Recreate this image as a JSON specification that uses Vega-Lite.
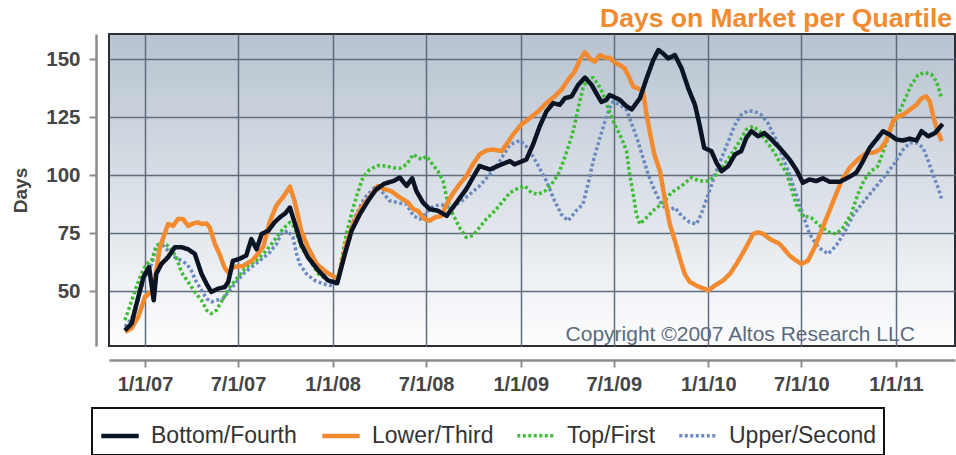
{
"$schema": "https://vega.github.io/schema/vega-lite/v6.json",
"width": 846, "height": 312,
"autosize": {"type": "none"},
"padding": {"left": 109, "top": 34, "right": 1, "bottom": 109},
"background": "white",
"title": {"text": "Days on Market per Quartile", "anchor": "end", "frame": "group", "fontSize": 26.5, "font": "Liberation Sans", "fontWeight": "bold", "color": "#f28a30", "offset": 2, "dx": -3},
"data": {"values": [
{"s":"Upper/Second","d":"2006-11-23","v":34.6},{"s":"Upper/Second","d":"2006-12-06","v":38.1},{"s":"Upper/Second","d":"2006-12-19","v":47.4},{"s":"Upper/Second","d":"2007-01-01","v":56},{"s":"Upper/Second","d":"2007-01-14","v":61.7},{"s":"Upper/Second","d":"2007-01-23","v":68.9},{"s":"Upper/Second","d":"2007-02-02","v":70.3},{"s":"Upper/Second","d":"2007-02-15","v":67.4},{"s":"Upper/Second","d":"2007-02-28","v":64.6},{"s":"Upper/Second","d":"2007-03-13","v":63.1},{"s":"Upper/Second","d":"2007-03-23","v":61.7},{"s":"Upper/Second","d":"2007-04-01","v":58.9},{"s":"Upper/Second","d":"2007-04-11","v":53.9},{"s":"Upper/Second","d":"2007-04-21","v":50.3},{"s":"Upper/Second","d":"2007-05-01","v":46.7},{"s":"Upper/Second","d":"2007-05-10","v":45.3},{"s":"Upper/Second","d":"2007-05-20","v":46},{"s":"Upper/Second","d":"2007-06-02","v":46.7},{"s":"Upper/Second","d":"2007-06-15","v":50.3},{"s":"Upper/Second","d":"2007-06-28","v":53.9},{"s":"Upper/Second","d":"2007-07-11","v":57.4},{"s":"Upper/Second","d":"2007-07-27","v":60.3},{"s":"Upper/Second","d":"2007-08-12","v":63.1},{"s":"Upper/Second","d":"2007-08-29","v":66},{"s":"Upper/Second","d":"2007-09-14","v":70.3},{"s":"Upper/Second","d":"2007-09-23","v":74.6},{"s":"Upper/Second","d":"2007-10-06","v":76},{"s":"Upper/Second","d":"2007-10-16","v":73.1},{"s":"Upper/Second","d":"2007-10-23","v":66},{"s":"Upper/Second","d":"2007-10-29","v":61.7},{"s":"Upper/Second","d":"2007-11-11","v":57.4},{"s":"Upper/Second","d":"2007-11-27","v":54.6},{"s":"Upper/Second","d":"2007-12-13","v":53.1},{"s":"Upper/Second","d":"2007-12-26","v":52.4},{"s":"Upper/Second","d":"2008-01-10","v":53.4},{"s":"Upper/Second","d":"2008-01-28","v":70.3},{"s":"Upper/Second","d":"2008-02-13","v":81.7},{"s":"Upper/Second","d":"2008-03-04","v":90.3},{"s":"Upper/Second","d":"2008-03-23","v":94.6},{"s":"Upper/Second","d":"2008-04-05","v":93.1},{"s":"Upper/Second","d":"2008-04-21","v":88.9},{"s":"Upper/Second","d":"2008-05-07","v":88.1},{"s":"Upper/Second","d":"2008-05-24","v":87.4},{"s":"Upper/Second","d":"2008-06-06","v":82.4},{"s":"Upper/Second","d":"2008-06-19","v":81},{"s":"Upper/Second","d":"2008-07-02","v":83.9},{"s":"Upper/Second","d":"2008-07-15","v":86.7},{"s":"Upper/Second","d":"2008-07-31","v":87.1},{"s":"Upper/Second","d":"2008-08-16","v":86},{"s":"Upper/Second","d":"2008-09-04","v":88.1},{"s":"Upper/Second","d":"2008-09-24","v":91.7},{"s":"Upper/Second","d":"2008-10-13","v":95.3},{"s":"Upper/Second","d":"2008-11-02","v":100.3},{"s":"Upper/Second","d":"2008-11-21","v":106},{"s":"Upper/Second","d":"2008-12-11","v":113.1},{"s":"Upper/Second","d":"2008-12-30","v":114.9},{"s":"Upper/Second","d":"2009-01-15","v":111.7},{"s":"Upper/Second","d":"2009-02-01","v":105.3},{"s":"Upper/Second","d":"2009-02-20","v":97.4},{"s":"Upper/Second","d":"2009-03-08","v":88.9},{"s":"Upper/Second","d":"2009-03-21","v":83.1},{"s":"Upper/Second","d":"2009-04-03","v":80.3},{"s":"Upper/Second","d":"2009-04-19","v":84.6},{"s":"Upper/Second","d":"2009-05-02","v":87.4},{"s":"Upper/Second","d":"2009-05-12","v":96},{"s":"Upper/Second","d":"2009-05-22","v":106},{"s":"Upper/Second","d":"2009-06-04","v":116},{"s":"Upper/Second","d":"2009-06-14","v":123.1},{"s":"Upper/Second","d":"2009-06-23","v":128.9},{"s":"Upper/Second","d":"2009-06-30","v":131.7},{"s":"Upper/Second","d":"2009-07-13","v":130.3},{"s":"Upper/Second","d":"2009-07-26","v":128.1},{"s":"Upper/Second","d":"2009-08-08","v":120.3},{"s":"Upper/Second","d":"2009-08-17","v":114.6},{"s":"Upper/Second","d":"2009-08-27","v":107.4},{"s":"Upper/Second","d":"2009-09-06","v":100.3},{"s":"Upper/Second","d":"2009-09-19","v":93.1},{"s":"Upper/Second","d":"2009-10-02","v":87.4},{"s":"Upper/Second","d":"2009-10-15","v":84.6},{"s":"Upper/Second","d":"2009-10-28","v":86},{"s":"Upper/Second","d":"2009-11-10","v":82.4},{"s":"Upper/Second","d":"2009-11-26","v":79.6},{"s":"Upper/Second","d":"2009-12-09","v":78.9},{"s":"Upper/Second","d":"2009-12-18","v":83.1},{"s":"Upper/Second","d":"2010-01-01","v":91.7},{"s":"Upper/Second","d":"2010-01-14","v":100.3},{"s":"Upper/Second","d":"2010-01-27","v":107.4},{"s":"Upper/Second","d":"2010-02-09","v":114.6},{"s":"Upper/Second","d":"2010-02-22","v":121.7},{"s":"Upper/Second","d":"2010-03-06","v":126},{"s":"Upper/Second","d":"2010-03-19","v":127.7},{"s":"Upper/Second","d":"2010-04-01","v":127.4},{"s":"Upper/Second","d":"2010-04-14","v":126},{"s":"Upper/Second","d":"2010-04-27","v":122.4},{"s":"Upper/Second","d":"2010-05-14","v":114.6},{"s":"Upper/Second","d":"2010-05-26","v":107.4},{"s":"Upper/Second","d":"2010-06-08","v":100.3},{"s":"Upper/Second","d":"2010-06-21","v":91.7},{"s":"Upper/Second","d":"2010-07-04","v":83.1},{"s":"Upper/Second","d":"2010-07-17","v":74.6},{"s":"Upper/Second","d":"2010-08-03","v":68.9},{"s":"Upper/Second","d":"2010-08-22","v":66},{"s":"Upper/Second","d":"2010-09-07","v":69.6},{"s":"Upper/Second","d":"2010-09-23","v":75.3},{"s":"Upper/Second","d":"2010-10-09","v":82.4},{"s":"Upper/Second","d":"2010-10-26","v":87.4},{"s":"Upper/Second","d":"2010-11-11","v":91.7},{"s":"Upper/Second","d":"2010-11-27","v":96},{"s":"Upper/Second","d":"2010-12-13","v":100.3},{"s":"Upper/Second","d":"2010-12-30","v":105.3},{"s":"Upper/Second","d":"2011-01-15","v":111},{"s":"Upper/Second","d":"2011-01-28","v":113.9},{"s":"Upper/Second","d":"2011-02-10","v":113.9},{"s":"Upper/Second","d":"2011-02-23","v":111.7},{"s":"Upper/Second","d":"2011-03-05","v":106},{"s":"Upper/Second","d":"2011-03-14","v":100.3},{"s":"Upper/Second","d":"2011-03-24","v":94.6},{"s":"Upper/Second","d":"2011-03-31","v":89.6},
{"s":"Top/First","d":"2006-11-23","v":37.4},{"s":"Top/First","d":"2006-12-02","v":43.1},{"s":"Top/First","d":"2006-12-15","v":51.7},{"s":"Top/First","d":"2006-12-25","v":57.4},{"s":"Top/First","d":"2007-01-04","v":61.7},{"s":"Top/First","d":"2007-01-14","v":63.1},{"s":"Top/First","d":"2007-01-23","v":69.6},{"s":"Top/First","d":"2007-02-05","v":71},{"s":"Top/First","d":"2007-02-18","v":68.9},{"s":"Top/First","d":"2007-03-03","v":64.6},{"s":"Top/First","d":"2007-03-13","v":58.1},{"s":"Top/First","d":"2007-03-26","v":53.9},{"s":"Top/First","d":"2007-04-08","v":49.6},{"s":"Top/First","d":"2007-04-21","v":46},{"s":"Top/First","d":"2007-05-01","v":41.7},{"s":"Top/First","d":"2007-05-10","v":40.3},{"s":"Top/First","d":"2007-05-20","v":41.7},{"s":"Top/First","d":"2007-06-02","v":46.7},{"s":"Top/First","d":"2007-06-15","v":51.7},{"s":"Top/First","d":"2007-07-01","v":56},{"s":"Top/First","d":"2007-07-17","v":60.3},{"s":"Top/First","d":"2007-08-06","v":63.1},{"s":"Top/First","d":"2007-08-25","v":67.4},{"s":"Top/First","d":"2007-09-14","v":73.1},{"s":"Top/First","d":"2007-09-26","v":76.7},{"s":"Top/First","d":"2007-10-10","v":79.6},{"s":"Top/First","d":"2007-10-19","v":77.4},{"s":"Top/First","d":"2007-11-01","v":68.9},{"s":"Top/First","d":"2007-11-14","v":64.6},{"s":"Top/First","d":"2007-12-04","v":57.4},{"s":"Top/First","d":"2007-12-23","v":54.6},{"s":"Top/First","d":"2008-01-10","v":53.9},{"s":"Top/First","d":"2008-01-28","v":74.6},{"s":"Top/First","d":"2008-02-10","v":86},{"s":"Top/First","d":"2008-02-20","v":93.1},{"s":"Top/First","d":"2008-02-29","v":98.9},{"s":"Top/First","d":"2008-03-13","v":102.4},{"s":"Top/First","d":"2008-03-29","v":104.1},{"s":"Top/First","d":"2008-04-15","v":103.9},{"s":"Top/First","d":"2008-04-28","v":103.1},{"s":"Top/First","d":"2008-05-11","v":102.9},{"s":"Top/First","d":"2008-05-24","v":104.6},{"s":"Top/First","d":"2008-06-06","v":108.9},{"s":"Top/First","d":"2008-06-22","v":106.7},{"s":"Top/First","d":"2008-07-02","v":108.1},{"s":"Top/First","d":"2008-07-11","v":105.3},{"s":"Top/First","d":"2008-07-24","v":101.7},{"s":"Top/First","d":"2008-08-03","v":97.4},{"s":"Top/First","d":"2008-08-10","v":90.3},{"s":"Top/First","d":"2008-08-22","v":83.1},{"s":"Top/First","d":"2008-09-04","v":77.4},{"s":"Top/First","d":"2008-09-17","v":73.1},{"s":"Top/First","d":"2008-09-30","v":73.9},{"s":"Top/First","d":"2008-10-13","v":77.4},{"s":"Top/First","d":"2008-10-26","v":81},{"s":"Top/First","d":"2008-11-12","v":84.6},{"s":"Top/First","d":"2008-11-28","v":88.9},{"s":"Top/First","d":"2008-12-11","v":92.4},{"s":"Top/First","d":"2008-12-27","v":94.3},{"s":"Top/First","d":"2009-01-09","v":95.3},{"s":"Top/First","d":"2009-01-22","v":92.4},{"s":"Top/First","d":"2009-02-04","v":91.7},{"s":"Top/First","d":"2009-02-17","v":93.1},{"s":"Top/First","d":"2009-03-02","v":96},{"s":"Top/First","d":"2009-03-15","v":100.3},{"s":"Top/First","d":"2009-03-24","v":105.3},{"s":"Top/First","d":"2009-04-03","v":111.7},{"s":"Top/First","d":"2009-04-13","v":118.9},{"s":"Top/First","d":"2009-04-23","v":128.9},{"s":"Top/First","d":"2009-05-02","v":137.4},{"s":"Top/First","d":"2009-05-12","v":141.7},{"s":"Top/First","d":"2009-05-22","v":142},{"s":"Top/First","d":"2009-06-01","v":138.9},{"s":"Top/First","d":"2009-06-10","v":135.3},{"s":"Top/First","d":"2009-06-20","v":128.9},{"s":"Top/First","d":"2009-07-03","v":121.7},{"s":"Top/First","d":"2009-07-16","v":116},{"s":"Top/First","d":"2009-07-26","v":110.3},{"s":"Top/First","d":"2009-08-01","v":100.3},{"s":"Top/First","d":"2009-08-08","v":91.7},{"s":"Top/First","d":"2009-08-14","v":83.1},{"s":"Top/First","d":"2009-08-21","v":78.9},{"s":"Top/First","d":"2009-09-03","v":81.7},{"s":"Top/First","d":"2009-09-19","v":85.3},{"s":"Top/First","d":"2009-10-05","v":88.1},{"s":"Top/First","d":"2009-10-21","v":92.4},{"s":"Top/First","d":"2009-11-10","v":95.3},{"s":"Top/First","d":"2009-11-29","v":98.9},{"s":"Top/First","d":"2009-12-15","v":97.4},{"s":"Top/First","d":"2010-01-01","v":97.4},{"s":"Top/First","d":"2010-01-17","v":100.3},{"s":"Top/First","d":"2010-01-30","v":103.9},{"s":"Top/First","d":"2010-02-15","v":108.9},{"s":"Top/First","d":"2010-03-03","v":114.6},{"s":"Top/First","d":"2010-03-16","v":119.6},{"s":"Top/First","d":"2010-03-29","v":121},{"s":"Top/First","d":"2010-04-11","v":118.9},{"s":"Top/First","d":"2010-04-24","v":114.6},{"s":"Top/First","d":"2010-05-10","v":109.6},{"s":"Top/First","d":"2010-05-17","v":106.7},{"s":"Top/First","d":"2010-06-02","v":101},{"s":"Top/First","d":"2010-06-12","v":93.9},{"s":"Top/First","d":"2010-06-21","v":87.4},{"s":"Top/First","d":"2010-07-04","v":82.4},{"s":"Top/First","d":"2010-07-20","v":81.7},{"s":"Top/First","d":"2010-08-06","v":78.1},{"s":"Top/First","d":"2010-08-25","v":75.3},{"s":"Top/First","d":"2010-09-07","v":74.6},{"s":"Top/First","d":"2010-09-20","v":77.4},{"s":"Top/First","d":"2010-10-06","v":83.1},{"s":"Top/First","d":"2010-10-19","v":91.7},{"s":"Top/First","d":"2010-11-01","v":98.1},{"s":"Top/First","d":"2010-11-14","v":101.7},{"s":"Top/First","d":"2010-11-27","v":103.9},{"s":"Top/First","d":"2010-12-10","v":111.7},{"s":"Top/First","d":"2010-12-23","v":120.3},{"s":"Top/First","d":"2011-01-05","v":126},{"s":"Top/First","d":"2011-01-18","v":132.4},{"s":"Top/First","d":"2011-01-31","v":138.9},{"s":"Top/First","d":"2011-02-13","v":143.1},{"s":"Top/First","d":"2011-02-26","v":144.3},{"s":"Top/First","d":"2011-03-11","v":143.4},{"s":"Top/First","d":"2011-03-21","v":140.3},{"s":"Top/First","d":"2011-03-31","v":133.1},
{"s":"Lower/Third","d":"2006-11-23","v":32.4},{"s":"Lower/Third","d":"2006-12-06","v":33.9},{"s":"Lower/Third","d":"2006-12-19","v":38.9},{"s":"Lower/Third","d":"2007-01-01","v":47.5},{"s":"Lower/Third","d":"2007-01-17","v":50.3},{"s":"Lower/Third","d":"2007-01-30","v":68.9},{"s":"Lower/Third","d":"2007-02-15","v":78.9},{"s":"Lower/Third","d":"2007-02-25","v":78.1},{"s":"Lower/Third","d":"2007-03-06","v":81},{"s":"Lower/Third","d":"2007-03-16","v":81},{"s":"Lower/Third","d":"2007-03-26","v":78.1},{"s":"Lower/Third","d":"2007-04-05","v":79.1},{"s":"Lower/Third","d":"2007-04-14","v":79.6},{"s":"Lower/Third","d":"2007-04-21","v":78.9},{"s":"Lower/Third","d":"2007-05-01","v":79.1},{"s":"Lower/Third","d":"2007-05-07","v":77.4},{"s":"Lower/Third","d":"2007-05-17","v":70.3},{"s":"Lower/Third","d":"2007-05-26","v":66},{"s":"Lower/Third","d":"2007-06-05","v":60},{"s":"Lower/Third","d":"2007-06-13","v":57.8},{"s":"Lower/Third","d":"2007-06-21","v":60.3},{"s":"Lower/Third","d":"2007-07-11","v":60.8},{"s":"Lower/Third","d":"2007-07-30","v":63.4},{"s":"Lower/Third","d":"2007-08-19","v":69},{"s":"Lower/Third","d":"2007-09-01","v":80},{"s":"Lower/Third","d":"2007-09-14","v":87},{"s":"Lower/Third","d":"2007-09-27","v":90.6},{"s":"Lower/Third","d":"2007-10-10","v":95},{"s":"Lower/Third","d":"2007-10-19","v":88.9},{"s":"Lower/Third","d":"2007-11-01","v":76},{"s":"Lower/Third","d":"2007-11-14","v":68.9},{"s":"Lower/Third","d":"2007-12-01","v":61.7},{"s":"Lower/Third","d":"2007-12-20","v":58.1},{"s":"Lower/Third","d":"2008-01-05","v":56},{"s":"Lower/Third","d":"2008-01-12","v":55.3},{"s":"Lower/Third","d":"2008-01-28","v":70.3},{"s":"Lower/Third","d":"2008-02-10","v":78.9},{"s":"Lower/Third","d":"2008-02-26","v":86},{"s":"Lower/Third","d":"2008-03-13","v":90.3},{"s":"Lower/Third","d":"2008-03-29","v":95.3},{"s":"Lower/Third","d":"2008-04-11","v":93.9},{"s":"Lower/Third","d":"2008-04-24","v":93.1},{"s":"Lower/Third","d":"2008-05-11","v":90.3},{"s":"Lower/Third","d":"2008-05-27","v":88.1},{"s":"Lower/Third","d":"2008-06-06","v":85.3},{"s":"Lower/Third","d":"2008-06-15","v":84.6},{"s":"Lower/Third","d":"2008-06-28","v":81},{"s":"Lower/Third","d":"2008-07-08","v":80.3},{"s":"Lower/Third","d":"2008-07-18","v":81.7},{"s":"Lower/Third","d":"2008-07-31","v":82.4},{"s":"Lower/Third","d":"2008-08-10","v":87.5},{"s":"Lower/Third","d":"2008-08-22","v":92},{"s":"Lower/Third","d":"2008-09-04","v":96},{"s":"Lower/Third","d":"2008-09-17","v":99.5},{"s":"Lower/Third","d":"2008-09-30","v":104.6},{"s":"Lower/Third","d":"2008-10-13","v":108.9},{"s":"Lower/Third","d":"2008-10-26","v":110.6},{"s":"Lower/Third","d":"2008-11-08","v":111},{"s":"Lower/Third","d":"2008-11-25","v":110.3},{"s":"Lower/Third","d":"2008-12-04","v":113.1},{"s":"Lower/Third","d":"2008-12-17","v":117.4},{"s":"Lower/Third","d":"2009-01-02","v":121.7},{"s":"Lower/Third","d":"2009-01-19","v":124.6},{"s":"Lower/Third","d":"2009-02-04","v":127.4},{"s":"Lower/Third","d":"2009-02-20","v":131},{"s":"Lower/Third","d":"2009-03-08","v":133.9},{"s":"Lower/Third","d":"2009-03-21","v":136.7},{"s":"Lower/Third","d":"2009-04-03","v":141},{"s":"Lower/Third","d":"2009-04-16","v":144.6},{"s":"Lower/Third","d":"2009-04-26","v":149.6},{"s":"Lower/Third","d":"2009-05-06","v":152.9},{"s":"Lower/Third","d":"2009-05-15","v":150.3},{"s":"Lower/Third","d":"2009-05-25","v":148.9},{"s":"Lower/Third","d":"2009-06-04","v":151.7},{"s":"Lower/Third","d":"2009-06-14","v":150.6},{"s":"Lower/Third","d":"2009-06-23","v":150.6},{"s":"Lower/Third","d":"2009-07-03","v":148.5},{"s":"Lower/Third","d":"2009-07-16","v":147},{"s":"Lower/Third","d":"2009-07-22","v":146},{"s":"Lower/Third","d":"2009-08-01","v":141.7},{"s":"Lower/Third","d":"2009-08-08","v":138.1},{"s":"Lower/Third","d":"2009-08-17","v":137.4},{"s":"Lower/Third","d":"2009-08-27","v":136},{"s":"Lower/Third","d":"2009-09-03","v":126},{"s":"Lower/Third","d":"2009-09-09","v":118.9},{"s":"Lower/Third","d":"2009-09-18","v":108.9},{"s":"Lower/Third","d":"2009-09-29","v":101.7},{"s":"Lower/Third","d":"2009-10-08","v":90.3},{"s":"Lower/Third","d":"2009-10-18","v":78.9},{"s":"Lower/Third","d":"2009-10-28","v":71.7},{"s":"Lower/Third","d":"2009-11-06","v":64.6},{"s":"Lower/Third","d":"2009-11-16","v":57.4},{"s":"Lower/Third","d":"2009-11-26","v":53.9},{"s":"Lower/Third","d":"2009-12-12","v":52},{"s":"Lower/Third","d":"2010-01-01","v":50.3},{"s":"Lower/Third","d":"2010-01-14","v":52.4},{"s":"Lower/Third","d":"2010-01-30","v":54.6},{"s":"Lower/Third","d":"2010-02-12","v":57.4},{"s":"Lower/Third","d":"2010-02-25","v":61.7},{"s":"Lower/Third","d":"2010-03-10","v":66.7},{"s":"Lower/Third","d":"2010-03-19","v":70.3},{"s":"Lower/Third","d":"2010-03-29","v":74.6},{"s":"Lower/Third","d":"2010-04-08","v":75.3},{"s":"Lower/Third","d":"2010-04-18","v":74.6},{"s":"Lower/Third","d":"2010-05-01","v":72.4},{"s":"Lower/Third","d":"2010-05-20","v":70.3},{"s":"Lower/Third","d":"2010-06-08","v":65.3},{"s":"Lower/Third","d":"2010-06-21","v":63.1},{"s":"Lower/Third","d":"2010-07-01","v":61.7},{"s":"Lower/Third","d":"2010-07-14","v":63.1},{"s":"Lower/Third","d":"2010-07-27","v":68.9},{"s":"Lower/Third","d":"2010-08-09","v":76},{"s":"Lower/Third","d":"2010-08-22","v":83.1},{"s":"Lower/Third","d":"2010-09-04","v":90.3},{"s":"Lower/Third","d":"2010-09-17","v":97.4},{"s":"Lower/Third","d":"2010-10-03","v":103.1},{"s":"Lower/Third","d":"2010-10-19","v":106.7},{"s":"Lower/Third","d":"2010-11-05","v":109.6},{"s":"Lower/Third","d":"2010-11-18","v":109.6},{"s":"Lower/Third","d":"2010-12-01","v":111},{"s":"Lower/Third","d":"2010-12-13","v":114.6},{"s":"Lower/Third","d":"2010-12-26","v":123.1},{"s":"Lower/Third","d":"2011-01-05","v":125.3},{"s":"Lower/Third","d":"2011-01-15","v":126},{"s":"Lower/Third","d":"2011-01-28","v":128.1},{"s":"Lower/Third","d":"2011-02-10","v":130.3},{"s":"Lower/Third","d":"2011-02-20","v":133.1},{"s":"Lower/Third","d":"2011-03-01","v":133.9},{"s":"Lower/Third","d":"2011-03-08","v":131.7},{"s":"Lower/Third","d":"2011-03-14","v":126},{"s":"Lower/Third","d":"2011-03-21","v":120.3},{"s":"Lower/Third","d":"2011-03-31","v":114.6},
{"s":"Bottom/Fourth","d":"2006-11-23","v":33},{"s":"Bottom/Fourth","d":"2006-12-06","v":36},{"s":"Bottom/Fourth","d":"2006-12-19","v":47.4},{"s":"Bottom/Fourth","d":"2006-12-29","v":56},{"s":"Bottom/Fourth","d":"2007-01-09","v":60.3},{"s":"Bottom/Fourth","d":"2007-01-18","v":46},{"s":"Bottom/Fourth","d":"2007-01-23","v":57.4},{"s":"Bottom/Fourth","d":"2007-02-02","v":61.7},{"s":"Bottom/Fourth","d":"2007-02-15","v":64.6},{"s":"Bottom/Fourth","d":"2007-02-28","v":68.9},{"s":"Bottom/Fourth","d":"2007-03-13","v":68.9},{"s":"Bottom/Fourth","d":"2007-03-26","v":68},{"s":"Bottom/Fourth","d":"2007-04-08","v":66},{"s":"Bottom/Fourth","d":"2007-04-21","v":57.4},{"s":"Bottom/Fourth","d":"2007-05-01","v":53},{"s":"Bottom/Fourth","d":"2007-05-10","v":49.6},{"s":"Bottom/Fourth","d":"2007-05-23","v":51},{"s":"Bottom/Fourth","d":"2007-06-05","v":51.7},{"s":"Bottom/Fourth","d":"2007-06-12","v":53.9},{"s":"Bottom/Fourth","d":"2007-06-21","v":63},{"s":"Bottom/Fourth","d":"2007-07-04","v":63.9},{"s":"Bottom/Fourth","d":"2007-07-17","v":65.3},{"s":"Bottom/Fourth","d":"2007-07-27","v":72.4},{"s":"Bottom/Fourth","d":"2007-08-06","v":68},{"s":"Bottom/Fourth","d":"2007-08-16","v":74.6},{"s":"Bottom/Fourth","d":"2007-08-29","v":76},{"s":"Bottom/Fourth","d":"2007-09-10","v":79.6},{"s":"Bottom/Fourth","d":"2007-09-20","v":81.7},{"s":"Bottom/Fourth","d":"2007-10-01","v":83.5},{"s":"Bottom/Fourth","d":"2007-10-10","v":86},{"s":"Bottom/Fourth","d":"2007-10-19","v":79.6},{"s":"Bottom/Fourth","d":"2007-11-01","v":70.3},{"s":"Bottom/Fourth","d":"2007-11-14","v":64.6},{"s":"Bottom/Fourth","d":"2007-12-04","v":58.9},{"s":"Bottom/Fourth","d":"2007-12-23","v":54.6},{"s":"Bottom/Fourth","d":"2008-01-10","v":53.4},{"s":"Bottom/Fourth","d":"2008-01-25","v":66},{"s":"Bottom/Fourth","d":"2008-02-07","v":76},{"s":"Bottom/Fourth","d":"2008-02-23","v":83.1},{"s":"Bottom/Fourth","d":"2008-03-10","v":88.9},{"s":"Bottom/Fourth","d":"2008-03-26","v":93.9},{"s":"Bottom/Fourth","d":"2008-04-11","v":96.3},{"s":"Bottom/Fourth","d":"2008-04-28","v":97.4},{"s":"Bottom/Fourth","d":"2008-05-11","v":98.9},{"s":"Bottom/Fourth","d":"2008-05-24","v":95.3},{"s":"Bottom/Fourth","d":"2008-06-04","v":98.6},{"s":"Bottom/Fourth","d":"2008-06-12","v":93.1},{"s":"Bottom/Fourth","d":"2008-06-25","v":88.1},{"s":"Bottom/Fourth","d":"2008-07-08","v":85.3},{"s":"Bottom/Fourth","d":"2008-07-24","v":84.6},{"s":"Bottom/Fourth","d":"2008-08-10","v":82.4},{"s":"Bottom/Fourth","d":"2008-08-29","v":88.1},{"s":"Bottom/Fourth","d":"2008-09-17","v":93.9},{"s":"Bottom/Fourth","d":"2008-09-30","v":98.9},{"s":"Bottom/Fourth","d":"2008-10-13","v":103.9},{"s":"Bottom/Fourth","d":"2008-11-02","v":102.4},{"s":"Bottom/Fourth","d":"2008-11-25","v":104.6},{"s":"Bottom/Fourth","d":"2008-12-11","v":106},{"s":"Bottom/Fourth","d":"2008-12-20","v":104.6},{"s":"Bottom/Fourth","d":"2009-01-12","v":106.7},{"s":"Bottom/Fourth","d":"2009-01-25","v":113.1},{"s":"Bottom/Fourth","d":"2009-02-07","v":121},{"s":"Bottom/Fourth","d":"2009-02-20","v":127.4},{"s":"Bottom/Fourth","d":"2009-03-05","v":131},{"s":"Bottom/Fourth","d":"2009-03-18","v":130.3},{"s":"Bottom/Fourth","d":"2009-03-28","v":133.1},{"s":"Bottom/Fourth","d":"2009-04-10","v":133.9},{"s":"Bottom/Fourth","d":"2009-04-23","v":138.9},{"s":"Bottom/Fourth","d":"2009-05-06","v":142},{"s":"Bottom/Fourth","d":"2009-05-19","v":138.9},{"s":"Bottom/Fourth","d":"2009-05-28","v":135.3},{"s":"Bottom/Fourth","d":"2009-06-07","v":131.5},{"s":"Bottom/Fourth","d":"2009-06-17","v":132.5},{"s":"Bottom/Fourth","d":"2009-06-23","v":134.5},{"s":"Bottom/Fourth","d":"2009-07-03","v":133.5},{"s":"Bottom/Fourth","d":"2009-07-13","v":132.4},{"s":"Bottom/Fourth","d":"2009-07-26","v":129.6},{"s":"Bottom/Fourth","d":"2009-08-05","v":128.3},{"s":"Bottom/Fourth","d":"2009-08-21","v":133.1},{"s":"Bottom/Fourth","d":"2009-09-03","v":141.7},{"s":"Bottom/Fourth","d":"2009-09-16","v":149.6},{"s":"Bottom/Fourth","d":"2009-09-26","v":153.9},{"s":"Bottom/Fourth","d":"2009-10-05","v":152.4},{"s":"Bottom/Fourth","d":"2009-10-15","v":150.3},{"s":"Bottom/Fourth","d":"2009-10-28","v":151.7},{"s":"Bottom/Fourth","d":"2009-11-10","v":146},{"s":"Bottom/Fourth","d":"2009-11-23","v":137.4},{"s":"Bottom/Fourth","d":"2009-12-06","v":130.3},{"s":"Bottom/Fourth","d":"2009-12-15","v":121.7},{"s":"Bottom/Fourth","d":"2009-12-24","v":111.7},{"s":"Bottom/Fourth","d":"2010-01-07","v":110.3},{"s":"Bottom/Fourth","d":"2010-01-17","v":105.3},{"s":"Bottom/Fourth","d":"2010-01-27","v":101.7},{"s":"Bottom/Fourth","d":"2010-02-09","v":103.9},{"s":"Bottom/Fourth","d":"2010-02-22","v":108.9},{"s":"Bottom/Fourth","d":"2010-03-06","v":110.3},{"s":"Bottom/Fourth","d":"2010-03-16","v":116},{"s":"Bottom/Fourth","d":"2010-03-26","v":118.9},{"s":"Bottom/Fourth","d":"2010-04-08","v":116.7},{"s":"Bottom/Fourth","d":"2010-04-20","v":118.1},{"s":"Bottom/Fourth","d":"2010-05-01","v":116},{"s":"Bottom/Fourth","d":"2010-05-10","v":113.9},{"s":"Bottom/Fourth","d":"2010-05-20","v":111.7},{"s":"Bottom/Fourth","d":"2010-06-08","v":106.7},{"s":"Bottom/Fourth","d":"2010-06-21","v":102.4},{"s":"Bottom/Fourth","d":"2010-07-04","v":96.7},{"s":"Bottom/Fourth","d":"2010-07-17","v":98.1},{"s":"Bottom/Fourth","d":"2010-07-30","v":97.4},{"s":"Bottom/Fourth","d":"2010-08-12","v":98.6},{"s":"Bottom/Fourth","d":"2010-08-25","v":97.1},{"s":"Bottom/Fourth","d":"2010-09-14","v":97.1},{"s":"Bottom/Fourth","d":"2010-09-30","v":98.9},{"s":"Bottom/Fourth","d":"2010-10-16","v":101},{"s":"Bottom/Fourth","d":"2010-10-29","v":106},{"s":"Bottom/Fourth","d":"2010-11-11","v":111.7},{"s":"Bottom/Fourth","d":"2010-11-24","v":115.3},{"s":"Bottom/Fourth","d":"2010-12-07","v":118.9},{"s":"Bottom/Fourth","d":"2010-12-20","v":117.4},{"s":"Bottom/Fourth","d":"2011-01-02","v":115.3},{"s":"Bottom/Fourth","d":"2011-01-15","v":114.9},{"s":"Bottom/Fourth","d":"2011-01-28","v":115.7},{"s":"Bottom/Fourth","d":"2011-02-10","v":114.9},{"s":"Bottom/Fourth","d":"2011-02-20","v":118.9},{"s":"Bottom/Fourth","d":"2011-03-05","v":116.7},{"s":"Bottom/Fourth","d":"2011-03-18","v":118.1},{"s":"Bottom/Fourth","d":"2011-04-02","v":122}
]},
"layer": [
{"mark": {"type": "line", "strokeCap": "butt", "strokeJoin": "round"},
 "encoding": {
  "x": {"field": "d", "type": "temporal",
    "scale": {"type": "utc", "domain": [{"year": 2006, "month": 10, "date": 23, "utc": true}, {"year": 2011, "month": 4, "date": 26, "utc": true}]},
    "axis": {"title": null, "format": "%-m/%-d/%y", "offset": 14, "tickSize": 7, "tickWidth": 2, "tickColor": "#8c8c8c", "domainColor": "#8c8c8c", "domainWidth": 2.5,
      "labelFont": "Liberation Sans", "labelFontSize": 20, "labelFontWeight": "bold", "labelColor": "#454545", "labelPadding": 7, "labelFlush": false, "labelOverlap": false,
      "grid": true, "gridColor": "#5f6d7d", "gridWidth": 1.5,
      "values": [{"year": 2007, "month": 1, "date": 1, "utc": true}, {"year": 2007, "month": 7, "date": 1, "utc": true}, {"year": 2008, "month": 1, "date": 1, "utc": true}, {"year": 2008, "month": 7, "date": 1, "utc": true}, {"year": 2009, "month": 1, "date": 1, "utc": true}, {"year": 2009, "month": 7, "date": 1, "utc": true}, {"year": 2010, "month": 1, "date": 1, "utc": true}, {"year": 2010, "month": 7, "date": 1, "utc": true}, {"year": 2011, "month": 1, "date": 1, "utc": true}]}},
  "y": {"field": "v", "type": "quantitative",
    "scale": {"domain": [26.3, 160.8], "nice": false, "zero": false},
    "axis": {"title": "Days", "titleFont": "Liberation Sans", "titleFontSize": 19, "titleFontWeight": "bold", "titleColor": "#444444", "titlePadding": 15,
      "values": [50, 75, 100, 125, 150], "offset": 13, "tickSize": 7, "tickWidth": 2, "tickColor": "#8c8c8c", "domainColor": "#8c8c8c", "domainWidth": 2.5,
      "labelFont": "Liberation Sans", "labelFontSize": 20.5, "labelFontWeight": "bold", "labelColor": "#454545", "labelPadding": 9,
      "grid": true, "gridColor": "#5f6d7d", "gridWidth": 1.5}},
  "color": {"field": "s", "type": "nominal",
    "scale": {"domain": ["Bottom/Fourth", "Lower/Third", "Top/First", "Upper/Second"], "range": ["#0a1424", "#f28a30", "#3fbe35", "#6d8ac0"]},
    "legend": {"title": null, "orient": "none", "legendX": -17, "legendY": 374, "direction": "horizontal", "columns": 4,
      "symbolType": "stroke", "symbolSize": 1400, "labelFont": "Liberation Sans", "labelFontSize": 23, "labelColor": "#333333", "labelOffset": 10, "labelLimit": 0,
      "columnPadding": 16, "padding": 7, "strokeColor": "#111111",
      "encode": {"legend": {"update": {"strokeWidth": {"value": 2}}}}}},
  "strokeDash": {"field": "s", "type": "nominal",
    "scale": {"domain": ["Bottom/Fourth", "Lower/Third", "Top/First", "Upper/Second"], "range": [[1, 0], [1, 0], [3, 2.5], [3, 2.5]]}},
  "strokeWidth": {"field": "s", "type": "nominal",
    "scale": {"type": "ordinal", "domain": ["Bottom/Fourth", "Lower/Third", "Top/First", "Upper/Second"], "range": [4.5, 4.5, 3.5, 3.5]}}
 }},
{"data": {"values": [{"note": "Copyright ©2007 Altos Research LLC"}]},
 "mark": {"type": "text", "align": "right", "baseline": "alphabetic", "font": "Liberation Sans", "fontSize": 21, "color": "#5b6a7d"},
 "encoding": {
  "x": {"datum": {"year": 2011, "month": 2, "date": 7, "utc": true}, "type": "temporal"},
  "y": {"datum": 28.4, "type": "quantitative"},
  "text": {"field": "note", "type": "nominal"}
 }}
],
"config": {
  "view": {"fill": {"gradient": "linear", "x1": 0, "y1": 0, "x2": 0, "y2": 1, "stops": [{"offset": 0, "color": "#b7c3d0"}, {"offset": 1, "color": "#fdfdfe"}]}, "stroke": "#2a2f36", "strokeWidth": 2}
}
}
